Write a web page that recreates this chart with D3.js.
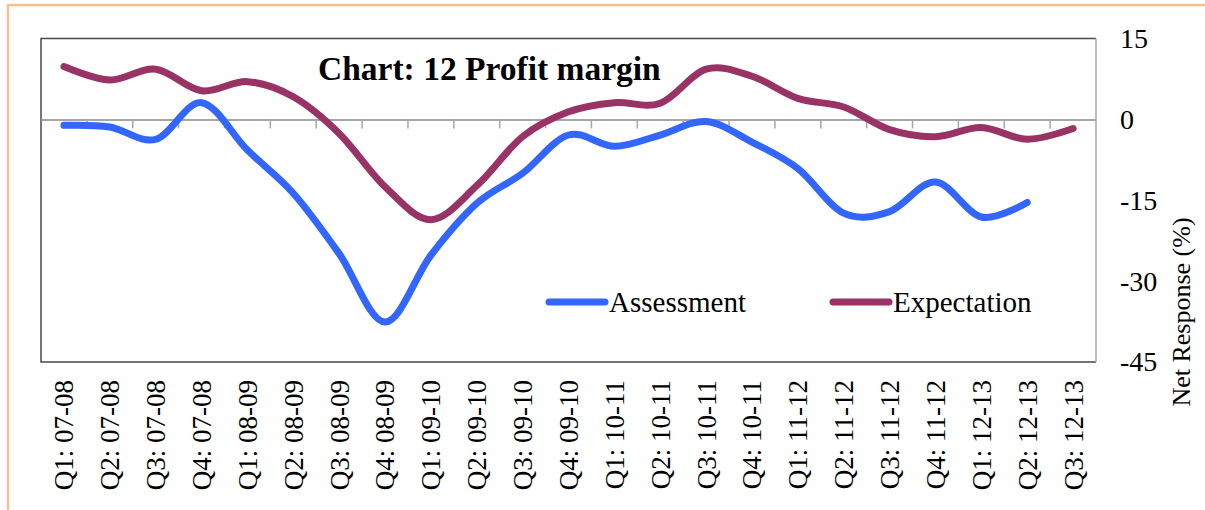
<!DOCTYPE html>
<html>
<head>
<meta charset="utf-8">
<script src="https://cdn.jsdelivr.net/npm/d3@7"></script>
<style>
  body { margin: 0; background: #fff; }
  svg { display: block; font-family: "Liberation Serif", "Times New Roman", serif; }
</style>
</head>
<body>
<svg id="chart" width="1205" height="510"></svg>
<script>
// quarters on the category axis
const categories = ["Q1: 07-08", "Q2: 07-08", "Q3: 07-08", "Q4: 07-08",
    "Q1: 08-09", "Q2: 08-09", "Q3: 08-09", "Q4: 08-09",
    "Q1: 09-10", "Q2: 09-10", "Q3: 09-10", "Q4: 09-10",
    "Q1: 10-11", "Q2: 10-11", "Q3: 10-11", "Q4: 10-11",
    "Q1: 11-12", "Q2: 11-12", "Q3: 11-12", "Q4: 11-12",
    "Q1: 12-13", "Q2: 12-13", "Q3: 12-13"];

// net response (%)
const assessment = [-1.1, -1.4, -3.7, 3.1, -5.7, -13.7, -24.9, -37.6,
    -25.2, -15.6, -10.0, -2.9, -5.0, -2.9, -0.4, -4.2,
    -9.1, -17.4, -17.1, -11.6, -18.1, -15.4, null];
const expectation = [9.8, 7.3, 9.3, 5.3, 7.0, 4.2, -2.6, -12.5,
    -18.6, -12.3, -3.2, 1.4, 3.1, 3.0, 9.3, 8.0,
    3.9, 2.3, -1.9, -3.2, -1.5, -3.7, -1.7];

const yTicks = [15, 0, -15, -30, -45];

const series = [
    {name: "Assessment", values: assessment, color: "#3366ff"},
    {name: "Expectation", values: expectation, color: "#993366"}
];

const svg = d3.select("#chart");
const plot = {left: 41, top: 38.5, right: 1096, bottom: 362};

//outer frame of the pasted chart
svg.append("rect")
    .attr("x", 8).attr("y", 5)
    .attr("width", 1210).attr("height", 520)
    .attr("fill", "none")
    .attr("stroke", "#fac090")
    .attr("stroke-width", 2.5);

const x = d3.scaleBand()
    .domain(categories)
    .range([plot.left, plot.right]);

const y = d3.scaleLinear()
    .domain([-45, 15])
    .range([plot.bottom, plot.top]);

//plot area border
svg.append("path")
    .attr("d", `M${plot.right},${plot.top}H${plot.left}V${plot.bottom}H${plot.right}`)
    .attr("fill", "none")
    .attr("stroke", "#4a4a4a")
    .attr("stroke-width", 1.5);
svg.append("line")
    .attr("x1", plot.right).attr("x2", plot.right)
    .attr("y1", plot.top).attr("y2", plot.bottom)
    .attr("stroke", "#a6a6a6")
    .attr("stroke-width", 1.5);

//category axis sits on the zero line, labels at the bottom
const xAxis = svg.append("g")
    .attr("transform", `translate(0,${y(0)})`)
    .call(d3.axisBottom(x).tickSize(0).tickFormat(""));
xAxis.select(".domain").attr("stroke", "#a6a6a6").attr("stroke-width", 2);

svg.append("g")
    .selectAll("line")
    .data(categories.slice(1))
    .join("line")
    .attr("x1", d => x(d)).attr("x2", d => x(d))
    .attr("y1", y(0)).attr("y2", y(0) + 9)
    .attr("stroke", "#a6a6a6")
    .attr("stroke-width", 1.5);

svg.append("g")
    .selectAll("text")
    .data(categories)
    .join("text")
    .attr("transform", d => `translate(${x(d) + x.bandwidth() / 2},380) rotate(-90)`)
    .attr("dy", "0.35em")
    .attr("text-anchor", "end")
    .attr("font-size", 27)
    .attr("fill", "#000")
    .text(d => d);

//value axis on the right, plain hyphen for negatives
const yAxis = svg.append("g")
    .attr("transform", `translate(${plot.right},0)`)
    .call(d3.axisRight(y).tickValues(yTicks).tickSize(0).tickPadding(24).tickFormat(d => String(d)));
yAxis.select(".domain").remove();
yAxis.selectAll("text")
    .attr("font-size", 28)
    .attr("font-family", "Liberation Serif")
    .attr("fill", "#000");

svg.append("text")
    .attr("transform", "translate(1190,312) rotate(-90)")
    .attr("text-anchor", "middle")
    .attr("font-size", 26)
    .text("Net Response (%)");

//smoothed lines like the spreadsheet
const line = d3.line()
    .defined(d => d != null)
    .x((d, i) => x(categories[i]) + x.bandwidth() / 2)
    .y(d => y(d))
    .curve(d3.curveCardinal.tension(0));

svg.append("g")
    .selectAll("path")
    .data(series.slice().reverse())
    .join("path")
    .attr("d", d => line(d.values))
    .attr("fill", "none")
    .attr("stroke", d => d.color)
    .attr("stroke-width", 7)
    .attr("stroke-linecap", "round")
    .attr("stroke-linejoin", "round");

svg.append("text")
    .attr("x", 318).attr("y", 80)
    .attr("font-size", 33.5)
    .attr("font-weight", "bold")
    .text("Chart: 12 Profit margin");

//legend
const legendX = [549, 833];
const legend = svg.append("g")
    .selectAll("g")
    .data(series)
    .join("g")
    .attr("transform", (d, i) => `translate(${legendX[i]},302)`);
legend.append("line")
    .attr("x1", 0).attr("x2", 56)
    .attr("stroke", d => d.color)
    .attr("stroke-width", 7)
    .attr("stroke-linecap", "round");
legend.append("text")
    .attr("x", 60)
    .attr("dy", "0.33em")
    .attr("font-size", 29)
    .text(d => d.name);
</script>
</body>
</html>
